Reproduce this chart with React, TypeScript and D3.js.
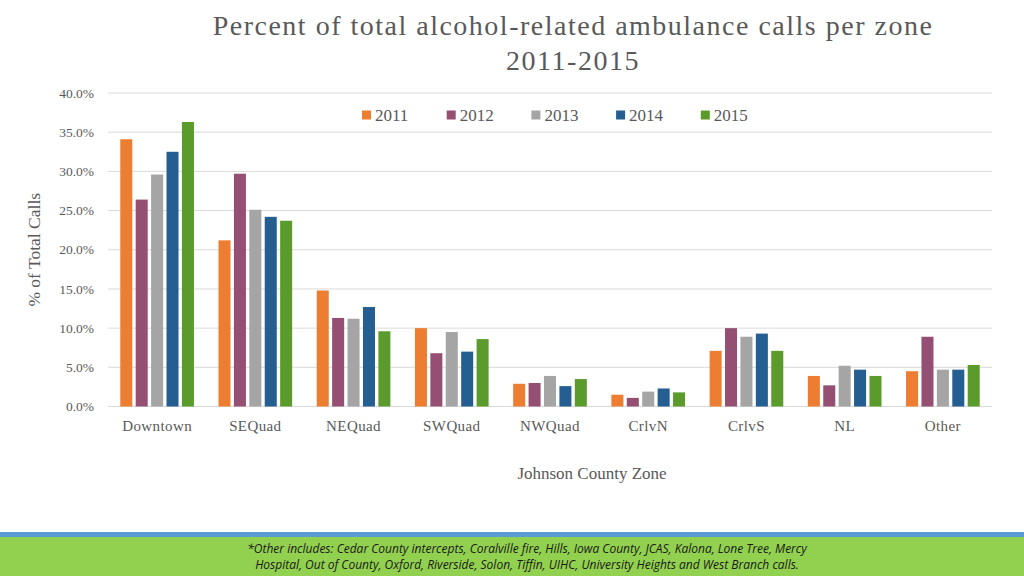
import React, { useEffect, useRef } from "react";
import * as d3 from "d3";

const zones = ["Downtown", "SEQuad", "NEQuad", "SWQuad", "NWQuad", "CrlvN", "CrlvS", "NL", "Other"];
const years = ["2011", "2012", "2013", "2014", "2015"];
const colors = ["#ED7D31", "#954F72", "#A5A5A5", "#255E91", "#5B9B2B"];

const v2011 = [34.1, 21.2, 14.8, 10.0, 2.9, 1.5, 7.1, 3.9, 4.5];
const v2012 = [26.4, 29.7, 11.3, 6.8, 3.0, 1.1, 10.0, 2.7, 8.9];
const v2013 = [29.6, 25.1, 11.2, 9.5, 3.9, 1.9, 8.9, 5.2, 4.7];
const v2014 = [32.5, 24.2, 12.7, 7.0, 2.6, 2.3, 9.3, 4.7, 4.7];
const v2015 = [36.3, 23.7, 9.6, 8.6, 3.5, 1.8, 7.1, 3.9, 5.3];
const series = [v2011, v2012, v2013, v2014, v2015];

const yTicks = [0, 5, 10, 15, 20, 25, 30, 35, 40];

const W = 1024;
const H = 576;
const serif = "'Liberation Serif', 'DejaVu Serif', serif";

const App: React.FC = () => {
  const svgRef = useRef<SVGSVGElement>(null);

  useEffect(() => {
    if (!svgRef.current) return;
    const svg = d3.select(svgRef.current);
    svg.selectAll("*").remove();

    const left = 108;
    const right = 992;
    const top = 93;
    const bottom = 406.5;

    const x0 = d3.scaleBand<string>().domain(zones).range([left, right]).paddingInner(0.25).paddingOuter(0.125);
    const x1 = d3.scaleBand<string>().domain(years).range([0, x0.bandwidth()]).paddingInner(0.22).paddingOuter(0);
    const y = d3.scaleLinear().domain([0, 40]).range([bottom, top]);

    svg.append("rect").attr("width", W).attr("height", H).attr("fill", "#fff");

    // gridlines
    svg
      .append("g")
      .selectAll("line")
      .data(yTicks)
      .join("line")
      .attr("x1", left)
      .attr("x2", right)
      .attr("y1", (d) => y(d))
      .attr("y2", (d) => y(d))
      .attr("stroke", "#d9d9d9")
      .attr("stroke-width", 1);

    // y tick labels
    svg
      .append("g")
      .selectAll("text")
      .data(yTicks)
      .join("text")
      .attr("x", 94)
      .attr("y", (d) => y(d))
      .attr("dy", "0.35em")
      .attr("text-anchor", "end")
      .attr("font-family", serif)
      .attr("font-size", 13.5)
      .attr("fill", "#595959")
      .text((d) => d.toFixed(1) + "%");

    // bars
    const groups = svg
      .append("g")
      .selectAll("g")
      .data(zones)
      .join("g")
      .attr("transform", (d) => `translate(${x0(d)},0)`);

    groups
      .selectAll("rect")
      .data((_, i) => years.map((yr, k) => ({ yr, k, v: series[k][i] })))
      .join("rect")
      .attr("x", (d) => x1(d.yr)!)
      .attr("width", x1.bandwidth())
      .attr("y", (d) => y(d.v))
      .attr("height", (d) => y(0) - y(d.v))
      .attr("fill", (d) => colors[d.k]);

    // category labels
    svg
      .append("g")
      .selectAll("text")
      .data(zones)
      .join("text")
      .attr("x", (d) => x0(d)! + x0.bandwidth() / 2)
      .attr("y", 431)
      .attr("text-anchor", "middle")
      .attr("font-family", serif)
      .attr("font-size", 15)
      .attr("letter-spacing", 0.4)
      .attr("fill", "#595959")
      .text((d) => d);

    // axis titles
    svg
      .append("text")
      .attr("x", 592)
      .attr("y", 479)
      .attr("text-anchor", "middle")
      .attr("font-family", serif)
      .attr("font-size", 17)
      .attr("fill", "#595959")
      .text("Johnson County Zone");

    svg
      .append("text")
      .attr("transform", `translate(40,${(top + bottom) / 2}) rotate(-90)`)
      .attr("text-anchor", "middle")
      .attr("font-family", serif)
      .attr("font-size", 17.5)
      .attr("fill", "#595959")
      .text("% of Total Calls");

    // title
    const title = svg
      .append("text")
      .attr("text-anchor", "middle")
      .attr("font-family", serif)
      .attr("font-size", 28)
      .attr("letter-spacing", 1.5)
      .attr("fill", "#595959");
    title.append("tspan").attr("x", 573).attr("y", 35).text("Percent of total alcohol-related ambulance calls per zone");
    title.append("tspan").attr("x", 573).attr("y", 70).text("2011-2015");

    // legend
    const legend = svg
      .append("g")
      .selectAll("g")
      .data(years)
      .join("g")
      .attr("transform", (_, i) => `translate(${362 + i * 84.7},115)`);
    legend
      .append("rect")
      .attr("x", 0)
      .attr("y", -4.5)
      .attr("width", 9)
      .attr("height", 9)
      .attr("fill", (_, i) => colors[i]);
    legend
      .append("text")
      .attr("x", 13)
      .attr("dy", "0.35em")
      .attr("font-family", serif)
      .attr("font-size", 17)
      .attr("fill", "#595959")
      .text((d) => d);

    // footer
    svg.append("rect").attr("x", 0).attr("y", 532).attr("width", W).attr("height", 6).attr("fill", "#5B9BD5");
    svg.append("rect").attr("x", 0).attr("y", 537).attr("width", W).attr("height", 39).attr("fill", "#92D050");
    const foot = svg
      .append("text")
      .attr("text-anchor", "middle")
      .attr("font-family", "'Open Sans', sans-serif")
      .attr("font-style", "italic")
      .attr("font-size", 12)
      .attr("fill", "#1a1a1a");
    foot
      .append("tspan")
      .attr("x", 527)
      .attr("y", 553)
      .text("*Other includes: Cedar County intercepts, Coralville fire, Hills, Iowa County, JCAS, Kalona, Lone Tree, Mercy");
    foot
      .append("tspan")
      .attr("x", 527)
      .attr("y", 569)
      .text("Hospital, Out of County, Oxford, Riverside, Solon, Tiffin, UIHC, University Heights and West Branch calls.");
  }, []);

  return (
    <div style={{ position: "absolute", left: 0, top: 0 }}>
      <svg ref={svgRef} width={W} height={H} style={{ display: "block" }} />
    </div>
  );
};

export default App;
